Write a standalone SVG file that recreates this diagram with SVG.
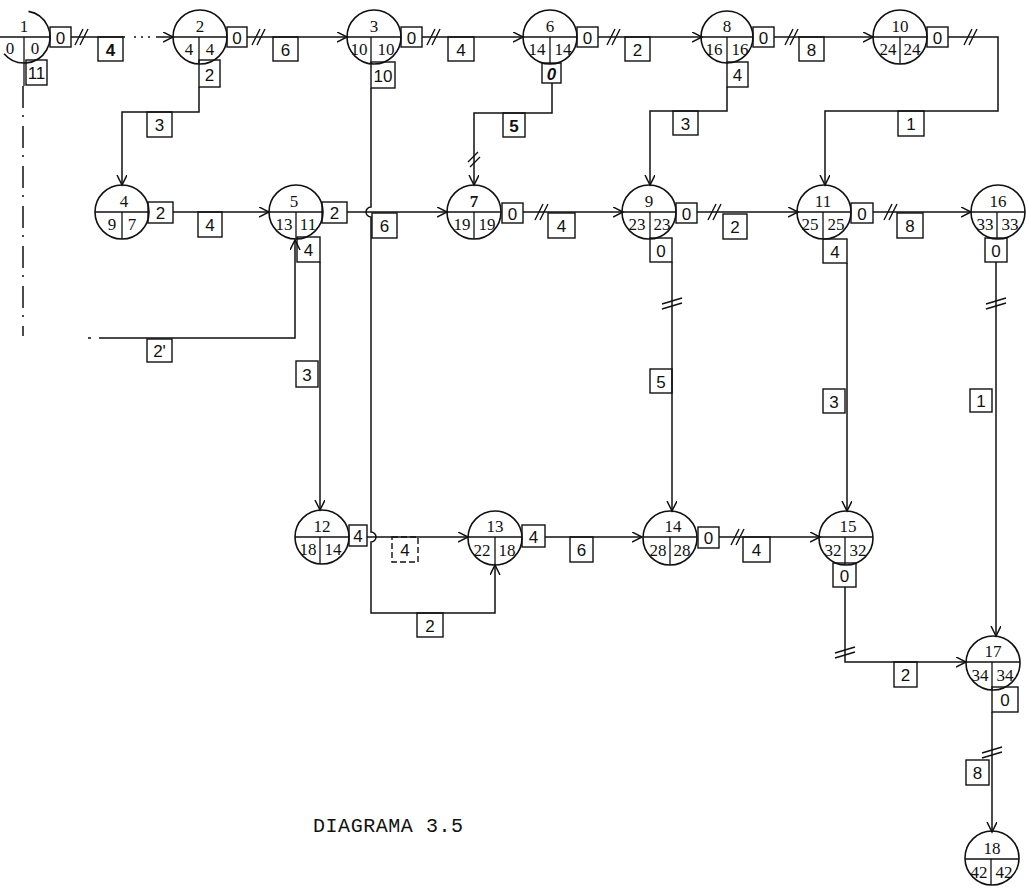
<svg xmlns="http://www.w3.org/2000/svg" width="1029" height="888" viewBox="0 0 1029 888">
<style>
.c{fill:none;stroke:#111;stroke-width:1.6}
.d{fill:none;stroke:#111;stroke-width:1.3}
.l{fill:none;stroke:#111;stroke-width:1.5}
.s{fill:none;stroke:#111;stroke-width:1.4}
.b{fill:none;stroke:#111;stroke-width:1.4}
.bt{font-family:"Liberation Sans",Arial,sans-serif;font-size:17px;fill:#111;text-anchor:middle}
.nt{font-family:"Liberation Serif","Times New Roman",serif;font-size:17px;fill:#111;text-anchor:middle}
.cap{font-family:"Liberation Mono","Courier New",monospace;font-size:20px;fill:#111}
</style>
<defs>
<marker id="a" markerUnits="userSpaceOnUse" markerWidth="12" markerHeight="12" refX="10" refY="5" orient="auto">
<path d="M0,0 L10,5 L0,10" fill="none" stroke="#111" stroke-width="1.5"/>
</marker>
</defs>
<rect width="1029" height="888" fill="#fff"/>
<g id="connectors">
<path class="l" d="M71,37 H125"/>
<path class="l" d="M134,37 H150" stroke-dasharray="2,5"/>
<path class="l" d="M156,37 H173" marker-end="url(#a)"/>
<path class="l" d="M247,37 H347" marker-end="url(#a)"/>
<path class="l" d="M422,37 H523" marker-end="url(#a)"/>
<path class="l" d="M598,37 H702" marker-end="url(#a)"/>
<path class="l" d="M774,37 H873" marker-end="url(#a)"/>
<path class="l" d="M948,37 H998 V111 H825 V185" marker-end="url(#a)"/>
<path class="l" d="M199,87 V112 H122 V185" marker-end="url(#a)"/>
<path class="l" d="M371,88 V207 A5,5 0 0 0 371,217 V532 A5,5 0 0 1 371,542 V613 H495 V565" marker-end="url(#a)"/>
<path class="l" d="M552,83 V113 H474 V185" marker-end="url(#a)" stroke-width="2"/>
<path class="l" d="M727,87 V111 H650 V185" marker-end="url(#a)"/>
<path class="l" d="M173,212 H269" marker-end="url(#a)"/>
<path class="l" d="M347,212 H447" marker-end="url(#a)"/>
<path class="l" d="M523,212 H623" marker-end="url(#a)"/>
<path class="l" d="M697,212 H798" marker-end="url(#a)"/>
<path class="l" d="M873,212 H971" marker-end="url(#a)"/>
<path class="l" d="M320,262 V510" marker-end="url(#a)"/>
<path class="l" d="M23,86 V336" stroke-dasharray="22,7,2,9"/>
<path class="l" d="M88,338 H91"/>
<path class="l" d="M99,338 H295 V240" marker-end="url(#a)"/>
<path class="l" d="M672,262 V511" marker-end="url(#a)"/>
<path class="l" d="M847,263 V511" marker-end="url(#a)"/>
<path class="l" d="M996,262 V636" marker-end="url(#a)"/>
<path class="l" d="M367,537 H468" marker-end="url(#a)"/>
<path class="l" d="M545,537 H642" marker-end="url(#a)"/>
<path class="l" d="M719,537 H820" marker-end="url(#a)"/>
<path class="l" d="M845,587 V662 H966" marker-end="url(#a)"/>
<path class="l" d="M992,712 V832" marker-end="url(#a)"/>
<path class="s" d="M75,45 L83,29 M80,45 L88,29"/>
<path class="s" d="M252,45 L260,29 M257,45 L265,29"/>
<path class="s" d="M427,45 L435,29 M432,45 L440,29"/>
<path class="s" d="M607,45 L615,29 M612,45 L620,29"/>
<path class="s" d="M785,45 L793,29 M790,45 L798,29"/>
<path class="s" d="M964,45 L972,29 M969,45 L977,29"/>
<path class="s" d="M535,220 L543,204 M540,220 L548,204"/>
<path class="s" d="M708,220 L716,204 M713,220 L721,204"/>
<path class="s" d="M884,220 L892,204 M889,220 L897,204"/>
<path class="s" d="M731,545 L739,529 M736,545 L744,529"/>
<path class="s" d="M468,162 L478,152 M470,167 L480,157"/>
<path class="s" d="M662,304 L682,298 M662,309 L682,303"/>
<path class="s" d="M986,304 L1006,298 M986,309 L1006,303"/>
<path class="s" d="M835,653 L855,647 M835,658 L855,652"/>
<path class="s" d="M982,753 L1002,747 M982,758 L1002,752"/>
</g>
<g id="labels">
<rect class="b" x="98" y="37" width="25" height="24"/><text class="bt" x="110.5" y="56" font-weight="bold">4</text>
<rect class="b" x="273" y="37" width="25" height="24"/><text class="bt" x="285.5" y="56">6</text>
<rect class="b" x="448" y="37" width="26" height="24"/><text class="bt" x="461" y="56">4</text>
<rect class="b" x="625" y="37" width="25" height="24"/><text class="bt" x="637.5" y="56">2</text>
<rect class="b" x="799" y="37" width="25" height="24"/><text class="bt" x="811.5" y="56">8</text>
<rect class="b" x="147" y="112" width="25" height="25"/><text class="bt" x="159.5" y="131">3</text>
<rect class="b" x="503" y="113" width="22" height="24"/><text class="bt" x="514" y="132" font-weight="bold">5</text>
<rect class="b" x="673" y="111" width="25" height="24"/><text class="bt" x="685.5" y="130">3</text>
<rect class="b" x="898" y="111" width="26" height="25"/><text class="bt" x="911" y="130">1</text>
<rect class="b" x="198" y="212" width="24" height="25"/><text class="bt" x="210" y="231">4</text>
<rect class="b" x="372" y="213" width="25" height="25"/><text class="bt" x="384.5" y="232">6</text>
<rect class="b" x="548" y="213" width="27" height="25"/><text class="bt" x="561.5" y="232">4</text>
<rect class="b" x="723" y="214" width="24" height="25"/><text class="bt" x="735" y="233">2</text>
<rect class="b" x="897" y="213" width="26" height="25"/><text class="bt" x="910" y="232">8</text>
<rect class="b" x="147" y="339" width="25" height="23"/><text class="bt" x="159.5" y="357">2'</text>
<rect class="b" x="296" y="361" width="22" height="26"/><text class="bt" x="307" y="381">3</text>
<rect class="b" x="650" y="369" width="22" height="24"/><text class="bt" x="661" y="388">5</text>
<rect class="b" x="823" y="389" width="22" height="24"/><text class="bt" x="834" y="408">3</text>
<rect class="b" x="970" y="389" width="22" height="23"/><text class="bt" x="981" y="407">1</text>
<rect class="b" x="392" y="537" width="26" height="25" stroke="#777" stroke-dasharray="6,3"/><text class="bt" x="405" y="556" fill="#777">4</text>
<rect class="b" x="570" y="537" width="23" height="25"/><text class="bt" x="581.5" y="556">6</text>
<rect class="b" x="743" y="537" width="27" height="25"/><text class="bt" x="756.5" y="556">4</text>
<rect class="b" x="417" y="613" width="26" height="24"/><text class="bt" x="430" y="632">2</text>
<rect class="b" x="894" y="662" width="23" height="25"/><text class="bt" x="905.5" y="681">2</text>
<rect class="b" x="966" y="760" width="23" height="25"/><text class="bt" x="977.5" y="779">8</text>
</g>
<g id="n1">
<path class="c" d="M28.5,11.4 A26,26 0 1 1 4.1,53.7"/>
<path class="d" d="M0,37 H50 M24,37 V86"/>
<text class="nt" x="24" y="32">1</text><text class="nt" x="10" y="54">0</text><text class="nt" x="35" y="54">0</text>
<rect class="b" x="50" y="27" width="21" height="20"/><text class="bt" x="60.5" y="44">0</text>
<rect class="b" x="26" y="60" width="21" height="25"/><text class="bt" x="36.5" y="79">11</text>
</g>
<g id="n2">
<circle class="c" cx="200" cy="37" r="27"/><path class="d" d="M173,37 H227 M199,37 V64"/>
<text class="nt" x="200" y="32">2</text><text class="nt" x="189" y="55">4</text><text class="nt" x="210" y="55">4</text>
<rect class="b" x="227" y="27" width="20" height="20"/><text class="bt" x="237" y="44">0</text>
<rect class="b" x="199" y="60" width="21" height="27"/><text class="bt" x="209.5" y="81">2</text>
</g>
<g id="n3">
<circle class="c" cx="374" cy="37" r="27"/><path class="d" d="M347,37 H401 M371,37 V64"/>
<text class="nt" x="374" y="32">3</text><text class="nt" x="359" y="55">10</text><text class="nt" x="386" y="55">10</text>
<rect class="b" x="401" y="27" width="21" height="20"/><text class="bt" x="411.5" y="44">0</text>
<rect class="b" x="371" y="62" width="24" height="26"/><text class="bt" x="383" y="82">10</text>
</g>
<g id="n6">
<circle class="c" cx="550" cy="37" r="27"/><path class="d" d="M523,37 H577 M550,37 V64"/>
<text class="nt" x="550" y="32">6</text><text class="nt" x="537" y="55">14</text><text class="nt" x="563" y="55">14</text>
<rect class="b" x="577" y="27" width="21" height="20"/><text class="bt" x="587.5" y="44">0</text>
<rect class="b" x="542" y="63" width="19" height="20"/><text class="bt" x="551.5" y="80" font-style="italic" font-weight="bold">0</text>
</g>
<g id="n8">
<circle class="c" cx="727" cy="37" r="26"/><path class="d" d="M701,37 H753 M727,37 V63"/>
<text class="nt" x="727" y="32">8</text><text class="nt" x="714" y="55">16</text><text class="nt" x="740" y="55">16</text>
<rect class="b" x="753" y="27" width="21" height="20"/><text class="bt" x="763.5" y="44">0</text>
<rect class="b" x="727" y="62" width="21" height="25"/><text class="bt" x="737.5" y="81">4</text>
</g>
<g id="n10">
<circle class="c" cx="900" cy="37" r="27"/><path class="d" d="M873,37 H927 M900,37 V64"/>
<text class="nt" x="900" y="32">10</text><text class="nt" x="888" y="55">24</text><text class="nt" x="912" y="55">24</text>
<rect class="b" x="927" y="27" width="21" height="20"/><text class="bt" x="937.5" y="44">0</text>
</g>
<g id="n4">
<circle class="c" cx="122" cy="212" r="27"/><path class="d" d="M95,212 H149 M122,212 V239"/>
<text class="nt" x="124" y="207">4</text><text class="nt" x="112" y="230">9</text><text class="nt" x="132" y="230">7</text>
<rect class="b" x="148" y="202" width="25" height="21"/><text class="bt" x="160.5" y="219">2</text>
</g>
<g id="n5">
<circle class="c" cx="296" cy="212" r="27"/><path class="d" d="M269,212 H323 M296,212 V239"/>
<text class="nt" x="294" y="207">5</text><text class="nt" x="284" y="230">13</text><text class="nt" x="308" y="230">11</text>
<rect class="b" x="322" y="202" width="25" height="21"/><text class="bt" x="334.5" y="219">2</text>
<rect class="b" x="297" y="237" width="23" height="25"/><text class="bt" x="308.5" y="256">4</text>
</g>
<g id="n7">
<circle class="c" cx="474" cy="212" r="27"/><path class="d" d="M447,212 H501 M474,212 V239"/>
<text class="nt" x="474" y="207" font-weight="bold">7</text><text class="nt" x="462" y="230">19</text><text class="nt" x="487" y="230">19</text>
<rect class="b" x="502" y="203" width="21" height="20"/><text class="bt" x="512.5" y="220">0</text>
</g>
<g id="n9">
<circle class="c" cx="649" cy="212" r="27"/><path class="d" d="M622,212 H676 M650,212 V239"/>
<text class="nt" x="649" y="207">9</text><text class="nt" x="637" y="230">23</text><text class="nt" x="662" y="230">23</text>
<rect class="b" x="676" y="203" width="21" height="20"/><text class="bt" x="686.5" y="220">0</text>
<rect class="b" x="650" y="238" width="22" height="24"/><text class="bt" x="661" y="257">0</text>
</g>
<g id="n11">
<circle class="c" cx="824" cy="212" r="27"/><path class="d" d="M797,212 H851 M823,212 V239"/>
<text class="nt" x="823" y="207">11</text><text class="nt" x="810" y="230">25</text><text class="nt" x="836" y="230">25</text>
<rect class="b" x="851" y="203" width="22" height="20"/><text class="bt" x="862" y="220">0</text>
<rect class="b" x="823" y="239" width="24" height="24"/><text class="bt" x="835" y="258">4</text>
</g>
<g id="n16">
<circle class="c" cx="998" cy="212" r="27"/><path class="d" d="M971,212 H1025 M997,212 V239"/>
<text class="nt" x="998" y="207">16</text><text class="nt" x="985" y="230">33</text><text class="nt" x="1010" y="230">33</text>
<rect class="b" x="985" y="238" width="22" height="24"/><text class="bt" x="996" y="257">0</text>
</g>
<g id="n12">
<circle class="c" cx="322" cy="537" r="27"/><path class="d" d="M295,537 H349 M320,537 V564"/>
<text class="nt" x="322" y="532">12</text><text class="nt" x="308" y="555">18</text><text class="nt" x="333" y="555">14</text>
<rect class="b" x="349" y="525" width="18" height="21"/><text class="bt" x="358" y="542">4</text>
</g>
<g id="n13">
<circle class="c" cx="495" cy="538" r="27"/><path class="d" d="M468,537 H522 M495,537 V565"/>
<text class="nt" x="495" y="532">13</text><text class="nt" x="482" y="556">22</text><text class="nt" x="507" y="556">18</text>
<rect class="b" x="522" y="525" width="23" height="22"/><text class="bt" x="533.5" y="543">4</text>
</g>
<g id="n14">
<circle class="c" cx="670" cy="538" r="27"/><path class="d" d="M643,537 H697 M670,537 V565"/>
<text class="nt" x="673" y="532">14</text><text class="nt" x="658" y="556">28</text><text class="nt" x="682" y="556">28</text>
<rect class="b" x="698" y="527" width="21" height="21"/><text class="bt" x="708.5" y="544">0</text>
</g>
<g id="n15">
<circle class="c" cx="846" cy="538" r="27"/><path class="d" d="M819,537 H873 M845,537 V565"/>
<text class="nt" x="848" y="532">15</text><text class="nt" x="833" y="556">32</text><text class="nt" x="858" y="556">32</text>
<rect class="b" x="833" y="563" width="23" height="24"/><text class="bt" x="844.5" y="582">0</text>
</g>
<g id="n17">
<circle class="c" cx="993" cy="663" r="27"/><path class="d" d="M966,662 H1020 M992,662 V690"/>
<text class="nt" x="993" y="657">17</text><text class="nt" x="980" y="681">34</text><text class="nt" x="1005" y="681">34</text>
<rect class="b" x="992" y="687" width="26" height="25"/><text class="bt" x="1005" y="706">0</text>
</g>
<g id="n18">
<circle class="c" cx="992" cy="858" r="27"/><path class="d" d="M965,859 H1019 M991,859 V885"/>
<text class="nt" x="992" y="854">18</text><text class="nt" x="979" y="878">42</text><text class="nt" x="1004" y="878">42</text>
</g>
<text class="cap" x="313" y="832" textLength="150">DIAGRAMA 3.5</text>
</svg>
